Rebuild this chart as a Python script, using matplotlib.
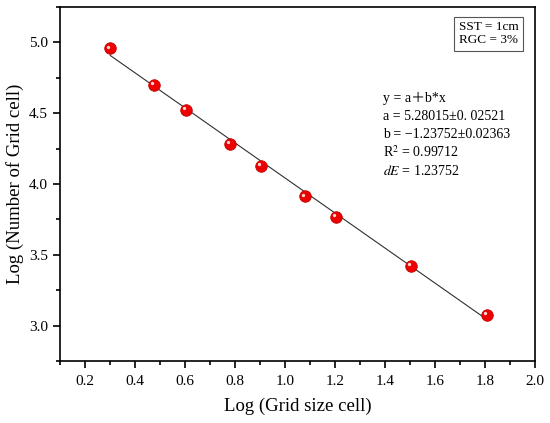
import numpy as np
import matplotlib.pyplot as plt
import matplotlib.transforms as mtransforms

plt.rcParams['font.family'] = ['Liberation Serif', 'Noto Sans CJK SC', 'DejaVu Serif']
plt.rcParams['mathtext.fontset'] = 'stix'

# data
log_grid_size = [0.301, 0.477, 0.602, 0.778, 0.903, 1.079, 1.204, 1.505, 1.806]
log_num_cells = [4.958, 4.700, 4.522, 4.283, 4.125, 3.912, 3.767, 3.420, 3.075]

# linear fit parameters shown on the chart
fit_a = 5.28015
fit_b = -1.23752


def main():
    fig = plt.figure(figsize=(5.5, 4.23), dpi=100)
    ax = fig.add_axes([60 / 550, 62 / 423, 475 / 550, 354 / 423])

    xs = np.array([log_grid_size[0], log_grid_size[-1]])
    ax.plot(xs, fit_a + fit_b * xs, color='#303030', lw=0.8, zorder=2)

    ax.plot(log_grid_size, log_num_cells, ls='none', marker='o', ms=8.3,
            mfc='#ee0000', mec='#c40000', mew=0.6, zorder=3)
    shine = mtransforms.offset_copy(ax.transData, fig=fig, x=-1.3, y=1.3, units='points')
    ax.plot(log_grid_size, log_num_cells, ls='none', marker='o', ms=2.4,
            mfc='#ffd6d6', mec='none', transform=shine, zorder=4)

    ax.set_xlim(0.1, 2.0)
    ax.set_ylim(2.75, 5.25)
    ax.set_xticks(np.arange(0.2, 2.01, 0.2))
    ax.set_xticks(np.arange(0.1, 2.01, 0.1), minor=True)
    ax.set_yticks([3.0, 3.5, 4.0, 4.5, 5.0])
    ax.set_yticks(np.arange(2.75, 5.26, 0.25), minor=True)
    ax.xaxis.set_major_formatter(plt.FormatStrFormatter('%.1f'))
    ax.yaxis.set_major_formatter(plt.FormatStrFormatter('%.1f'))
    ax.tick_params(which='major', direction='out', length=5, width=1.2, labelsize=11)
    ax.tick_params(axis='x', which='major', pad=5)
    ax.tick_params(which='minor', direction='out', length=3, width=1.2)
    for s in ax.spines.values():
        s.set_linewidth(1.2)

    ax.set_xlabel('Log (Grid size cell)', fontsize=13.5, labelpad=7)
    ax.set_ylabel('Log (Number of Grid cell)', fontsize=13.5, labelpad=4)

    ax.text(0.903, 0.924, 'SST = 1cm\nRGC = 3%', transform=ax.transAxes,
            fontsize=9.5, ha='center', va='center', linespacing=1.1,
            bbox=dict(boxstyle='square,pad=0.35', fc='white', ec='#555555', lw=0.8))

    lines = ['y = a\uff0bb*x',
             'a = 5.28015\u00b10. 02521',
             'b = \u22121.23752\u00b10.02363',
             'R$^2$ = 0.99712',
             '$dE$ = 1.23752']
    for i, t in enumerate(lines):
        ax.text(0.68, 0.742 - i * 0.051, t, transform=ax.transAxes,
                fontsize=10, ha='left', va='center')

    fig.savefig('out.png', dpi=100)


main()
